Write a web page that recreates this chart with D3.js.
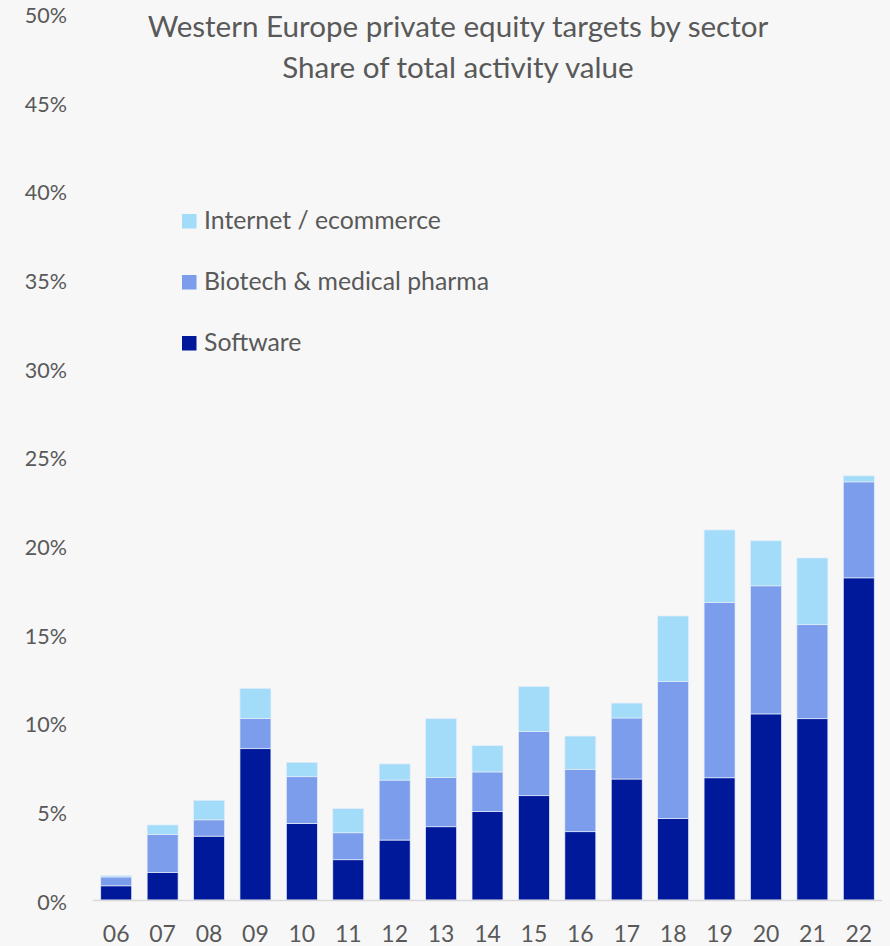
<!DOCTYPE html>
<html>
<head>
<meta charset="utf-8">
<script src="https://cdn.jsdelivr.net/npm/d3@7"></script>
<style>
  html, body { margin: 0; padding: 0; background: #f7f7f7; }
  svg { display: block; }
  text { font-family: Lato, "Open Sans", sans-serif; fill: #595959; }
</style>
</head>
<body>
<svg id="chart" width="890" height="946"></svg>
<script>
const years = ["06","07","08","09","10","11","12","13","14","15","16","17","18","19","20","21","22"];
const software = [0.80, 1.55, 3.60, 8.53, 4.32, 2.27, 3.38, 4.13, 4.98, 5.88, 3.85, 6.82, 4.60, 6.89, 10.49, 10.22, 18.16];
const biotech  = [0.50, 2.15, 0.92, 1.71, 2.63, 1.52, 3.38, 2.77, 2.24, 3.61, 3.52, 3.44, 7.71, 9.89, 7.22, 5.30, 5.41];
const internet = [0.07, 0.53, 1.10, 1.69, 0.81, 1.36, 0.91, 3.32, 1.48, 2.54, 1.87, 0.84, 3.70, 4.08, 2.54, 3.76, 0.34];
const yTicks = [0, 5, 10, 15, 20, 25, 30, 35, 40, 45, 50];
const seriesNames = ["Software", "Biotech & medical pharma", "Internet / ecommerce"];
const seriesColors = ["#00199b", "#7b9deb", "#a3dcf9"];
const titleLines = ["Western Europe private equity targets by sector", "Share of total activity value"];

const svg = d3.select("#chart");
const x = d3.scaleBand().domain(years).range([93, 882]).paddingInner(0.333).paddingOuter(0.1665);
const y = d3.scaleLinear().domain([0, 50]).range([900, 13]);

const table = years.map((yr, i) => ({year: yr, s0: software[i], s1: biotech[i], s2: internet[i]}));
const stack = d3.stack().keys(["s0", "s1", "s2"])(table);

svg.append("g").selectAll("g").data(stack).join("g")
  .attr("fill", (d, i) => seriesColors[i])
  .selectAll("rect").data(d => d).join("rect")
  .attr("x", d => x(d.data.year))
  .attr("width", x.bandwidth())
  .attr("y", d => y(d[1]))
  .attr("height", d => y(d[0]) - y(d[1]))
  .attr("stroke", "#e4ecfa")
  .attr("stroke-width", 0.7);

// x axis line
svg.append("line").attr("x1", 93).attr("x2", 882).attr("y1", y(0) + 0.5).attr("y2", y(0) + 0.5)
  .attr("stroke", "#d9d9d9").attr("stroke-width", 1.5);

// y axis labels
const yAxis = d3.axisLeft(y).tickValues(yTicks).tickFormat(d => d + "%").tickSize(0).tickPadding(0);
const gy = svg.append("g").attr("transform", "translate(67,2.5)").call(yAxis);
gy.select(".domain").remove();
gy.selectAll("text").style("font-family", "Lato, sans-serif").style("font-size", "21.5px").attr("fill", "#595959");

// x axis labels
const xAxis = d3.axisBottom(x).tickSize(0).tickPadding(0);
const gx = svg.append("g").attr("transform", "translate(0,926)").call(xAxis);
gx.select(".domain").remove();
gx.selectAll("text").style("font-family", "Lato, sans-serif").style("font-size", "23px").attr("fill", "#595959");

// title
svg.append("g").selectAll("text").data(titleLines).join("text")
  .attr("x", 458).attr("y", (d, i) => 37 + i * 41)
  .attr("text-anchor", "middle")
  .style("font-size", "29.6px")
  .text(d => d);

// legend
const legendOrder = [2, 1, 0];
const lg = svg.append("g").selectAll("g").data(legendOrder).join("g")
  .attr("transform", (d, i) => `translate(182, ${214 + i * 61})`);
lg.append("rect").attr("width", 14.5).attr("height", 14.5).attr("fill", d => seriesColors[d]);
lg.append("text").attr("x", 22).attr("y", 14.5).style("font-size", "24.8px").text(d => seriesNames[d]);
</script>
</body>
</html>
